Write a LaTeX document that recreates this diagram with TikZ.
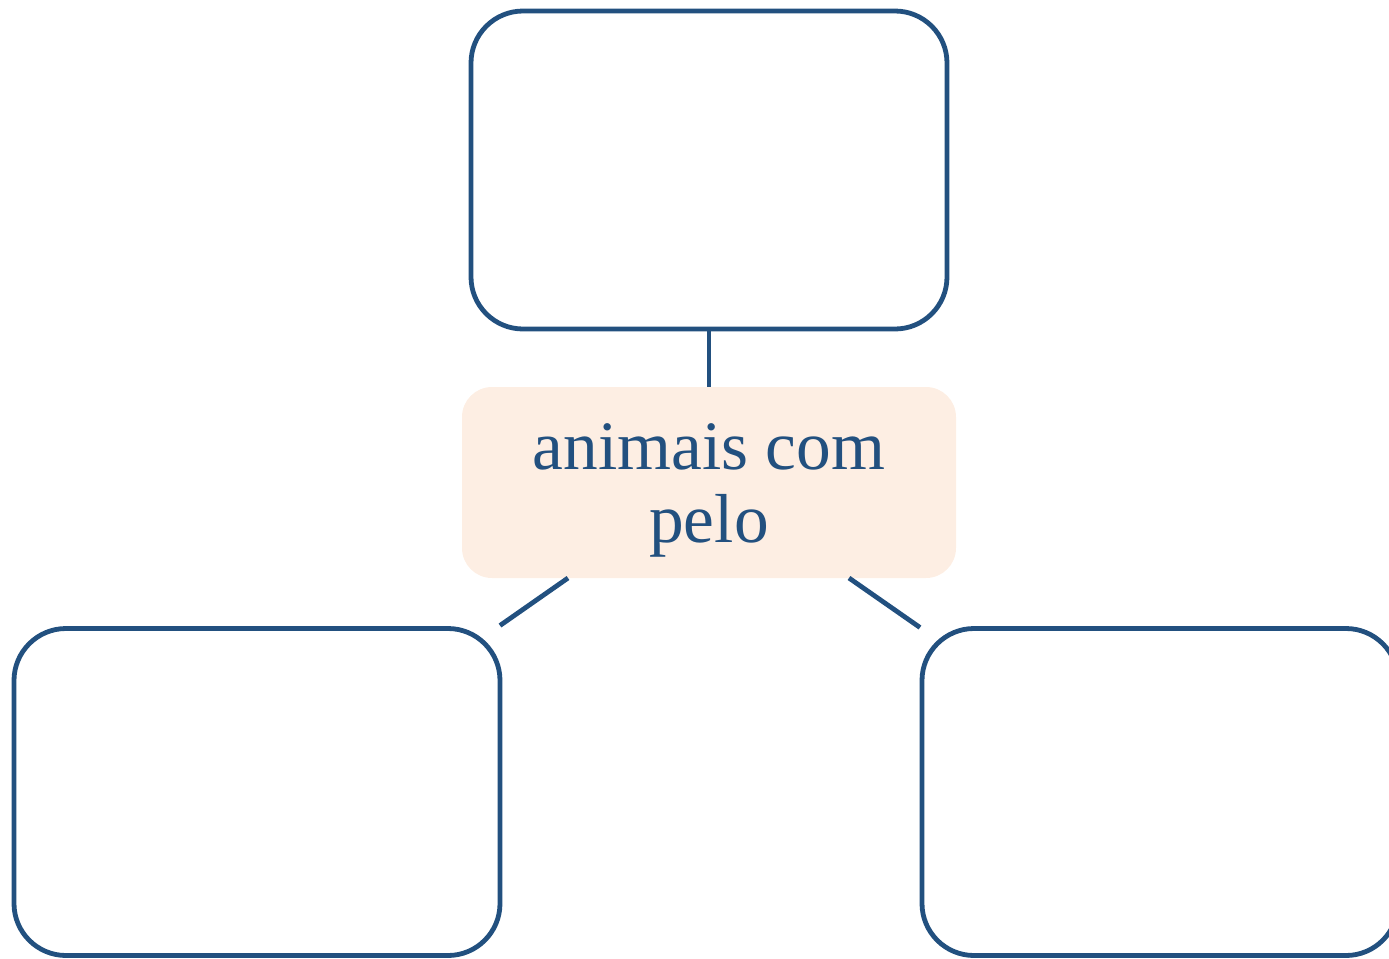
\documentclass[tikz,border=0pt]{standalone}
\usepackage{fontspec}
\setmainfont{Liberation Serif}
\usetikzlibrary{calc}
\definecolor{navy}{HTML}{22507F}
\definecolor{peach}{HTML}{FDEEE3}
\begin{document}
\begin{tikzpicture}[x=0.75pt,y=-0.75pt,
  box/.style={draw=navy,line width=3.6pt,rounded corners=39pt,inner sep=0pt,outer sep=0pt,fill=white},
  hub/.style={fill=peach,rounded corners=22.5pt,inner sep=0pt,outer sep=0pt,minimum width=370.5pt,minimum height=143.25pt},
  hubtext/.style={inner sep=0pt,align=center,text=navy,font=\fontsize{52}{55}\selectfont},
  link/.style={draw=navy,line width=3.6pt}]
\useasboundingbox (0,0) rectangle (1389,958);
\node[box,minimum width=357pt,minimum height=238.5pt] (top) at (709,170) {};
\node[box,minimum width=364.5pt,minimum height=245.25pt] (left) at (257,792) {};
\node[box,minimum width=357pt,minimum height=245.25pt] (right) at (1160,792) {};
\node[hub] (hub) at (709,482.5) {};
\node[hubtext] (label) at ($(hub.center)+(0,8)$) {animais com\\pelo};
\coordinate (l1) at ($(hub.south west)+(106,0)$);
\coordinate (l2) at ($(left.north east)+(0,-3)$);
\coordinate (r1) at ($(hub.south east)+(-107,0)$);
\coordinate (r2) at ($(right.north west)+(-2,-1)$);
\draw[link] (top.south) -- (hub.north);
\draw[link] (l1) -- (l2);
\draw[link] (r1) -- (r2);
\end{tikzpicture}
\end{document}
